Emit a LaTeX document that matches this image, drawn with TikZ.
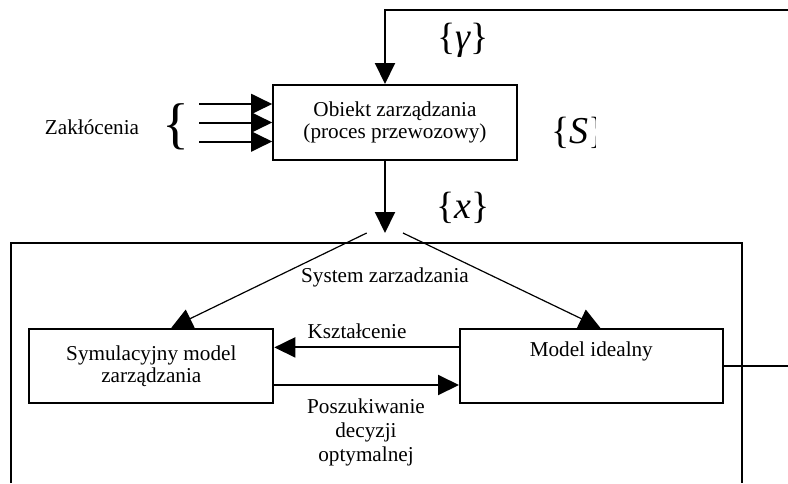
\documentclass[tikz,border=0pt]{standalone}
\usepackage{fontspec}
\setmainfont{Liberation Serif}
\newfontfamily\timesfam{Liberation Serif}
\usetikzlibrary{arrows.meta,calc}
\begin{document}
\begin{tikzpicture}[x=0.5pt,y=-0.5pt,
  box/.style={draw,line width=1pt,inner sep=0pt,align=center,font=\fontsize{10.6}{11}\selectfont},
  txt/.style={inner sep=0pt,align=center,font=\fontsize{10.6}{12}\selectfont},
  big/.style={inner sep=0pt,font=\timesfam\fontsize{19}{19}\selectfont},
  arr/.style={line width=1pt,-{Triangle[length=10.5pt,width=10pt]}},
  darr/.style={line width=0.6pt,-{Triangle[length=10.5pt,width=10pt]}},
  ln/.style={line width=1pt}]
\useasboundingbox (0,0) rectangle (788,483);
% boxes
\node[box,minimum width=121.8pt,minimum height=37.5pt] (obj) at (395,122.5) {Obiekt zarządzania\\(proces przewozowy)};
\node[box,minimum width=122pt,minimum height=37.2pt] (sym) at (151.3,366) {Symulacyjny model\\zarządzania};
\node[box,minimum width=131.3pt,minimum height=37.2pt] (mi) at (591.3,366) {};
\node[txt] (mit) at (591.3,351) {Model idealny};
% labels
\node[txt] (zak) at (92,127) {Zakłócenia};
\node[inner sep=0pt,font=\timesfam\fontsize{28}{28}\selectfont] (br) at (176,127) {\{};
\node[big] (gam) at (463,40) {\{{\itshape γ}\}};
\node[big] (xx) at (463,208) {\{{\itshape x}\}};
\begin{scope}
\clip (540,100) rectangle (595,170);
\node[big,anchor=west] (ss) at (551,133) {\{{\itshape S}\}};
\end{scope}
\node[txt] (sys) at (385,277) {System zarzadzania};
\node[txt] (ksz) at (357,331) {Kształcenie};
\node[txt] (pos) at (366,432) {Poszukiwanie\\decyzji\\optymalnej};
% feedback
\coordinate (tr) at (788,10);
\coordinate (fb) at (385,10);
\draw[arr] (tr) -- (fb) -- (fb |- obj.north);
% disturbances
\coordinate (d1) at (199,104);
\coordinate (d2) at (199,122.5);
\coordinate (d3) at (199,141.5);
\draw[arr] (d1) -- (obj.west |- d1);
\draw[arr] (d2) -- (obj.west |- d2);
\draw[arr] (d3) -- (obj.west |- d3);
% output of object
\coordinate (xin) at (385,233);
\draw[arr] (obj.south -| fb) -- (xin);
% management system frame
\coordinate (fbl) at (11,483);
\coordinate (ftl) at (11,242.7);
\coordinate (ftr) at (741.7,242.7);
\coordinate (fbr) at (741.7,483);
\draw[ln] (fbl) -- (ftl) -- (ftr) -- (fbr);
% diagonals
\coordinate (dl) at (366.7,233);
\coordinate (dr) at (403,233);
\draw[darr] (dl) -- ([xshift=10pt]sym.north);
\draw[darr] (dr) -- ([xshift=4.5pt]mi.north);
% horizontal links
\draw[arr] ([yshift=9.3pt]mi.west) -- ([yshift=9.3pt]sym.east);
\draw[arr] ([yshift=-9.5pt]sym.east) -- ([yshift=-9.5pt]mi.west);
% output
\coordinate (outr) at (788,366);
\draw[ln] (mi.east) -- (outr);
\end{tikzpicture}
\end{document}
